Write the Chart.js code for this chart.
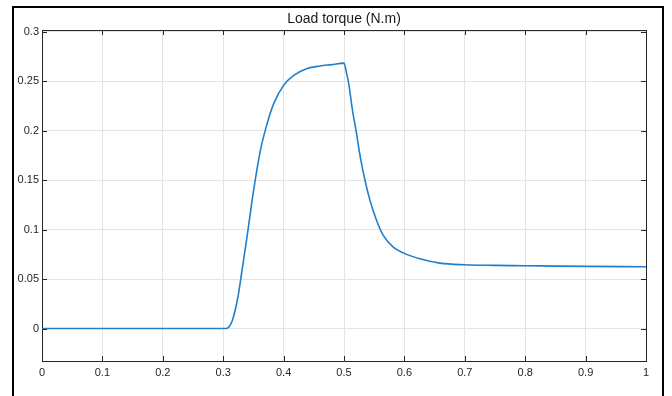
<!DOCTYPE html>
<html>
<head>
<meta charset="utf-8">
<script src="https://cdn.jsdelivr.net/npm/chart.js@4.4.1/dist/chart.umd.min.js"></script>
<style>
  html, body { margin: 0; padding: 0; background: #fff; }
  #wrap { position: relative; width: 672px; height: 396px; overflow: hidden; }
  #frame {
    position: absolute; left: 12px; top: 6px; width: 648px; height: 400px;
    border: 2px solid #000; pointer-events: none;
  }
  canvas { position: absolute; left: 0; top: 0; }
</style>
</head>
<body>
<div id="wrap">
  <canvas id="chart" width="672" height="396"></canvas>
  <div id="frame"></div>
</div>
<script>
// time (s) and load torque (N.m)
const timeValues = [
  0, 0.305, 0.310, 0.315, 0.320, 0.325, 0.330, 0.3395, 0.3504, 0.3615,
  0.3726, 0.3836, 0.400, 0.4168, 0.439, 0.460, 0.480, 0.500,
  0.504, 0.508, 0.514, 0.520, 0.527, 0.5347, 0.543, 0.554, 0.565, 0.5815,
  0.599, 0.6256, 0.6587, 0.700, 0.750, 0.800, 0.850, 0.900, 1.000
];
const torqueValues = [
  0, 0, 0.002, 0.008, 0.019, 0.034, 0.054, 0.093, 0.140, 0.180,
  0.207, 0.2275, 0.246, 0.256, 0.263, 0.2656, 0.267, 0.2685,
  0.259, 0.247, 0.221, 0.200, 0.1735, 0.150, 0.1297, 0.1094, 0.0942, 0.0824,
  0.0763, 0.0706, 0.0662, 0.0645, 0.0639, 0.0636, 0.0632, 0.0629, 0.0625
];
const xTicks = [0, 0.1, 0.2, 0.3, 0.4, 0.5, 0.6, 0.7, 0.8, 0.9, 1];
const yTicks = [0, 0.05, 0.1, 0.15, 0.2, 0.25, 0.3];

const axisColor = "#262626";
const gridColor = "#e4e4e4";

// MATLAB style: ticks point inward on all four sides, box closed at top/right
const innerTicks = {
  id: "innerTicks",
  afterDraw(chart) {
    const { ctx, chartArea: a, scales } = chart;
    ctx.save();
    ctx.strokeStyle = axisColor;
    ctx.lineWidth = 1;
    ctx.beginPath();
    ctx.moveTo(a.left, a.top + 0.5);
    ctx.lineTo(a.right + 0.5, a.top + 0.5);
    ctx.lineTo(a.right + 0.5, a.bottom);
    for (const v of xTicks) {
      const x = Math.round(scales.x.getPixelForValue(v)) + 0.5;
      ctx.moveTo(x, a.bottom);
      ctx.lineTo(x, a.bottom - 5);
      ctx.moveTo(x, a.top);
      ctx.lineTo(x, a.top + 5);
    }
    for (const v of yTicks) {
      const y = Math.round(scales.y.getPixelForValue(v)) + 0.5;
      ctx.moveTo(a.left, y);
      ctx.lineTo(a.left + 5, y);
      ctx.moveTo(a.right, y);
      ctx.lineTo(a.right - 5, y);
    }
    ctx.stroke();
    ctx.restore();
  },
};

const chartConfig = {
  type: "line",
  data: {
    datasets: [
      {
        label: "Load torque",
        data: timeValues.map((t, i) => ({ x: t, y: torqueValues[i] })),
        borderColor: "#1f7fcc",
        borderWidth: 1.6,
        pointRadius: 0,
        cubicInterpolationMode: "monotone",
        fill: false,
      },
    ],
  },
  options: {
    responsive: false,
    animation: false,
    layout: { padding: { left: 0, right: 26, top: 0, bottom: 0 } },
    plugins: {
      legend: { display: false },
      tooltip: { enabled: false },
      title: {
        display: true,
        text: "Load torque (N.m)",
        fullSize: false,
        color: "#1a1a1a",
        font: { family: "Liberation Sans, Arial, sans-serif", size: 14, weight: "normal", lineHeight: "16px" },
        padding: { top: 11, bottom: 3 },
      },
    },
    scales: {
      x: {
        type: "linear",
        min: 0,
        max: 1,
        afterBuildTicks: (s) => { s.ticks = xTicks.map((v) => ({ value: v })); },
        afterFit: (s) => { s.height = 35; },
        grid: { color: gridColor, drawTicks: false },
        border: { color: axisColor, width: 1 },
        ticks: {
          color: axisColor,
          padding: 5,
          maxRotation: 0,
          font: { family: "Liberation Sans, Arial, sans-serif", size: 11 },
          callback: (v) => String(+Number(v).toFixed(2)),
        },
      },
      y: {
        type: "linear",
        min: -0.0328,
        max: 0.302,
        afterBuildTicks: (s) => { s.ticks = yTicks.map((v) => ({ value: v })); },
        afterFit: (s) => { s.width = 42; },
        grid: { color: gridColor, drawTicks: false },
        border: { color: axisColor, width: 1 },
        ticks: {
          color: axisColor,
          padding: 3,
          font: { family: "Liberation Sans, Arial, sans-serif", size: 11 },
          callback: (v) => String(+Number(v).toFixed(2)),
        },
      },
    },
  },
  plugins: [innerTicks],
};

new Chart(document.getElementById("chart").getContext("2d"), chartConfig);
</script>
</body>
</html>
